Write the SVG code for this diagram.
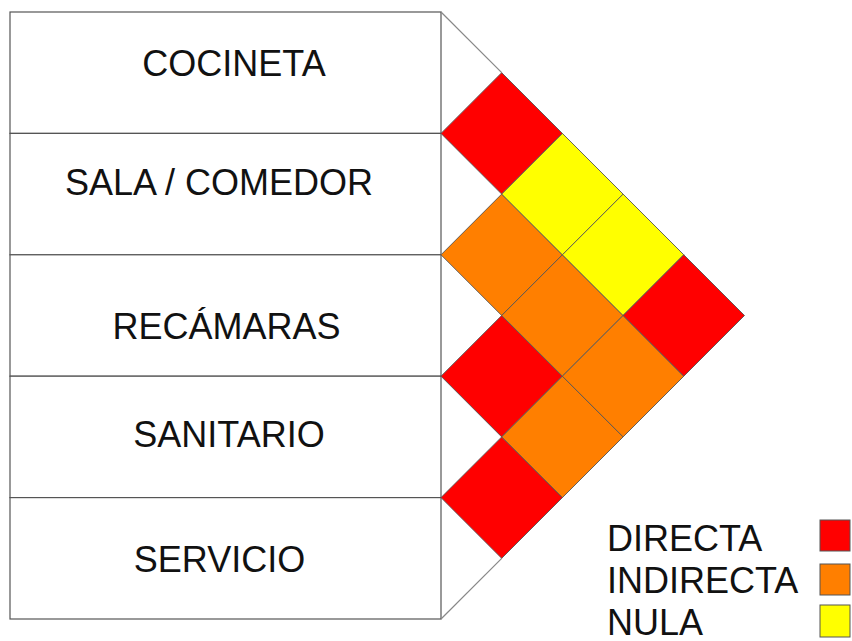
<svg xmlns="http://www.w3.org/2000/svg" width="852" height="641" viewBox="0 0 852 641">
<style>
.lbl{font-family:"Liberation Sans",Arial,sans-serif;font-size:36px;fill:#111;}
.row{fill:#fff;stroke:#555;stroke-width:1.2;}
.cell{stroke:#555;stroke-width:0.9;}
.d{fill:#ff0000;}
.i{fill:#ff7f00;}
.n{fill:#ffff00;}
.edge{stroke:#888;stroke-width:1.2;fill:none;}
.key{stroke:#555;stroke-width:1;}
</style>
<rect width="852" height="641" fill="#fff"/>
<g id="node-cocineta">
<rect class="row" x="10" y="12" width="431" height="121.4"/>
<text class="lbl" x="234" y="76" text-anchor="middle">COCINETA</text>
</g>
<g id="node-sala-comedor">
<rect class="row" x="10" y="133.4" width="431" height="121.4"/>
<text class="lbl" x="219" y="195" text-anchor="middle">SALA / COMEDOR</text>
</g>
<g id="node-recamaras">
<rect class="row" x="10" y="254.8" width="431" height="121.4"/>
<text class="lbl" x="226.5" y="339" text-anchor="middle">RECÁMARAS</text>
</g>
<g id="node-sanitario">
<rect class="row" x="10" y="376.2" width="431" height="121.4"/>
<text class="lbl" x="229" y="447" text-anchor="middle">SANITARIO</text>
</g>
<g id="node-servicio">
<rect class="row" x="10" y="497.6" width="431" height="121.4"/>
<text class="lbl" x="219.5" y="572" text-anchor="middle">SERVICIO</text>
</g>
<g id="connectors">
<line class="edge" x1="441" y1="12" x2="501.7" y2="72.7"/>
<line class="edge" x1="441" y1="619" x2="501.7" y2="558.3"/>
<polygon class="cell d" points="441,133.4 501.7,72.7 562.4,133.4 501.7,194.1"/>
<polygon class="cell i" points="441,254.8 501.7,194.1 562.4,254.8 501.7,315.5"/>
<polygon class="cell d" points="441,376.2 501.7,315.5 562.4,376.2 501.7,436.9"/>
<polygon class="cell d" points="441,497.6 501.7,436.9 562.4,497.6 501.7,558.3"/>
<polygon class="cell n" points="501.7,194.1 562.4,133.4 623.1,194.1 562.4,254.8"/>
<polygon class="cell i" points="501.7,315.5 562.4,254.8 623.1,315.5 562.4,376.2"/>
<polygon class="cell i" points="501.7,436.9 562.4,376.2 623.1,436.9 562.4,497.6"/>
<polygon class="cell n" points="562.4,254.8 623.1,194.1 683.8,254.8 623.1,315.5"/>
<polygon class="cell i" points="562.4,376.2 623.1,315.5 683.8,376.2 623.1,436.9"/>
<polygon class="cell d" points="623.1,315.5 683.8,254.8 744.5,315.5 683.8,376.2"/>
</g>
<g id="legend">
<text class="lbl" x="607" y="551">DIRECTA</text>
<text class="lbl" x="607" y="593">INDIRECTA</text>
<text class="lbl" x="607" y="635">NULA</text>
<rect class="key d" x="820" y="520" width="30" height="31"/>
<rect class="key i" x="820" y="564" width="30" height="31"/>
<rect class="key n" x="820" y="605" width="30" height="32"/>
</g>
</svg>
